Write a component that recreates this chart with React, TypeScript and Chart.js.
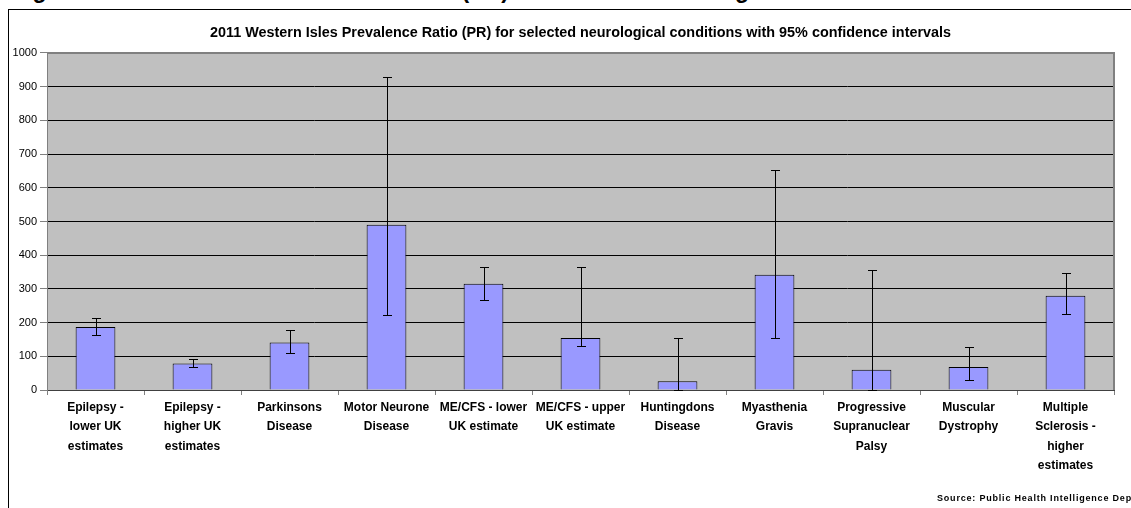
import React, { useEffect, useRef } from "react";
import { Chart, registerables } from "chart.js";

Chart.register(...registerables);

const figureHeading = "Figure 6: Western Isles Prevalence Ratio (PR) for selected neurological conditions";
const chartTitle =
  "2011 Western Isles Prevalence Ratio (PR) for selected neurological conditions with 95% confidence intervals";
const sourceNote = "Source: Public Health Intelligence Department";

const categories: string[][] = [
  ["Epilepsy -", "lower UK", "estimates"],
  ["Epilepsy -", "higher UK", "estimates"],
  ["Parkinsons", "Disease"],
  ["Motor Neurone", "Disease"],
  ["ME/CFS - lower", "UK estimate"],
  ["ME/CFS - upper", "UK estimate"],
  ["Huntingdons", "Disease"],
  ["Myasthenia", "Gravis"],
  ["Progressive", "Supranuclear", "Palsy"],
  ["Muscular", "Dystrophy"],
  ["Multiple", "Sclerosis -", "higher", "estimates"],
];

const prValues = [187, 79, 141, 490, 315, 154, 26, 342, 60, 68, 280];
const ciLower = [163, 69, 111, 222, 267, 130, 0, 154, 0, 30, 225];
const ciUpper = [214, 92, 178, 930, 366, 366, 154, 652, 355, 128, 346];

const yMin = 0;
const yMax = 1000;
const yStep = 100;

const FONT = "Arial, 'Liberation Sans', sans-serif";

const plotBackground = {
  id: "plotBackground",
  beforeDraw(chart: any) {
    const { ctx, chartArea } = chart;
    ctx.save();
    ctx.fillStyle = "#C0C0C0";
    ctx.fillRect(chartArea.left, chartArea.top, chartArea.right - chartArea.left, chartArea.bottom - chartArea.top);
    ctx.restore();
  },
};

const errorBarsAndFrame = {
  id: "errorBarsAndFrame",
  afterDatasetsDraw(chart: any) {
    const { ctx, chartArea } = chart;
    const yScale = chart.scales.y;
    const meta = chart.getDatasetMeta(0);
    ctx.save();
    ctx.strokeStyle = "#000";
    ctx.lineWidth = 1;
    meta.data.forEach((bar: any, i: number) => {
      const x = Math.round(bar.x) + 0.5;
      const yHi = Math.round(yScale.getPixelForValue(ciUpper[i])) + 0.5;
      const yLo = Math.round(yScale.getPixelForValue(ciLower[i])) + 0.5;
      ctx.beginPath();
      ctx.moveTo(x, yHi);
      ctx.lineTo(x, yLo);
      ctx.moveTo(x - 4.5, yHi);
      ctx.lineTo(x + 4.5, yHi);
      ctx.moveTo(x - 4.5, yLo);
      ctx.lineTo(x + 4.5, yLo);
      ctx.stroke();
    });
    ctx.strokeStyle = "#808080";
    ctx.lineWidth = 2;
    ctx.beginPath();
    ctx.moveTo(chartArea.left, chartArea.top);
    ctx.lineTo(chartArea.right, chartArea.top);
    ctx.lineTo(chartArea.right, chartArea.bottom);
    ctx.stroke();
    ctx.restore();
  },
};

export default function App() {
  const canvasRef = useRef<HTMLCanvasElement | null>(null);

  useEffect(() => {
    if (!canvasRef.current) return;
    const chart = new Chart(canvasRef.current, {
      type: "bar",
      data: {
        labels: categories,
        datasets: [
          {
            label: "PR",
            data: prValues,
            backgroundColor: "#9999FF",
            borderColor: "#000000",
            borderWidth: 1,
            categoryPercentage: 0.82,
            barPercentage: 0.5,
          },
        ],
      },
      options: {
        responsive: false,
        animation: false,
        devicePixelRatio: 1,
        layout: { padding: { left: 0, right: 17, top: 0, bottom: 0 } },
        plugins: {
          legend: { display: false },
          tooltip: { enabled: false },
          title: {
            display: true,
            fullSize: false,
            text: chartTitle,
            color: "#000",
            font: { family: FONT, size: 14.4, weight: "bold" },
            padding: { top: 24.4, bottom: 11.3 },
          },
        },
        scales: {
          x: {
            offset: true,
            grid: {
              display: true,
              offset: true,
              drawOnChartArea: false,
              drawTicks: true,
              tickLength: 5,
              color: "#808080",
            },
            border: { display: true, color: "#404040", width: 1 },
            ticks: {
              autoSkip: false,
              maxRotation: 0,
              minRotation: 0,
              padding: 3,
              color: "#000",
              font: { family: FONT, size: 12, weight: "bold", lineHeight: 1.62 },
            },
            afterFit(scale: any) {
              scale.height = 118;
            },
          },
          y: {
            min: yMin,
            max: yMax,
            ticks: {
              stepSize: yStep,
              padding: 3,
              color: "#000",
              font: { family: FONT, size: 11 },
              callback: (value: any) => String(value),
            },
            grid: {
              drawTicks: true,
              tickLength: 7,
              color: (ctx: any) => (ctx.tick && ctx.tick.value === yMax ? "rgba(0,0,0,0)" : "#000"),
              tickColor: "#808080",
              lineWidth: 1,
            },
            border: { display: true, color: "#808080", width: 1 },
            afterFit(scale: any) {
              scale.width = 47;
            },
          },
        },
      },
      plugins: [plotBackground, errorBarsAndFrame],
    });
    return () => chart.destroy();
  }, []);

  return (
    <div
      style={{
        position: "fixed",
        left: 0,
        top: 0,
        width: 1131,
        height: 508,
        overflow: "hidden",
        background: "#fff",
      }}
    >
      <div
        style={{
          position: "absolute",
          left: 12,
          top: -22,
          font: `bold 23px ${FONT}`,
          lineHeight: "24px",
          whiteSpace: "nowrap",
          color: "#000",
        }}
      >
        {figureHeading}
      </div>
      <div
        style={{
          position: "absolute",
          left: 8,
          top: 9,
          width: 1200,
          height: 600,
          borderTop: "1px solid #000",
          borderLeft: "1px solid #000",
        }}
      />
      <canvas
        ref={canvasRef}
        width={1131}
        height={508}
        style={{ position: "absolute", left: 0, top: 0, width: 1131, height: 508, display: "block" }}
      />
      <div
        style={{
          position: "absolute",
          left: 937,
          top: 493,
          font: `bold 9px ${FONT}`,
          letterSpacing: "0.8px",
          whiteSpace: "nowrap",
          color: "#000",
        }}
      >
        {sourceNote}
      </div>
    </div>
  );
}
